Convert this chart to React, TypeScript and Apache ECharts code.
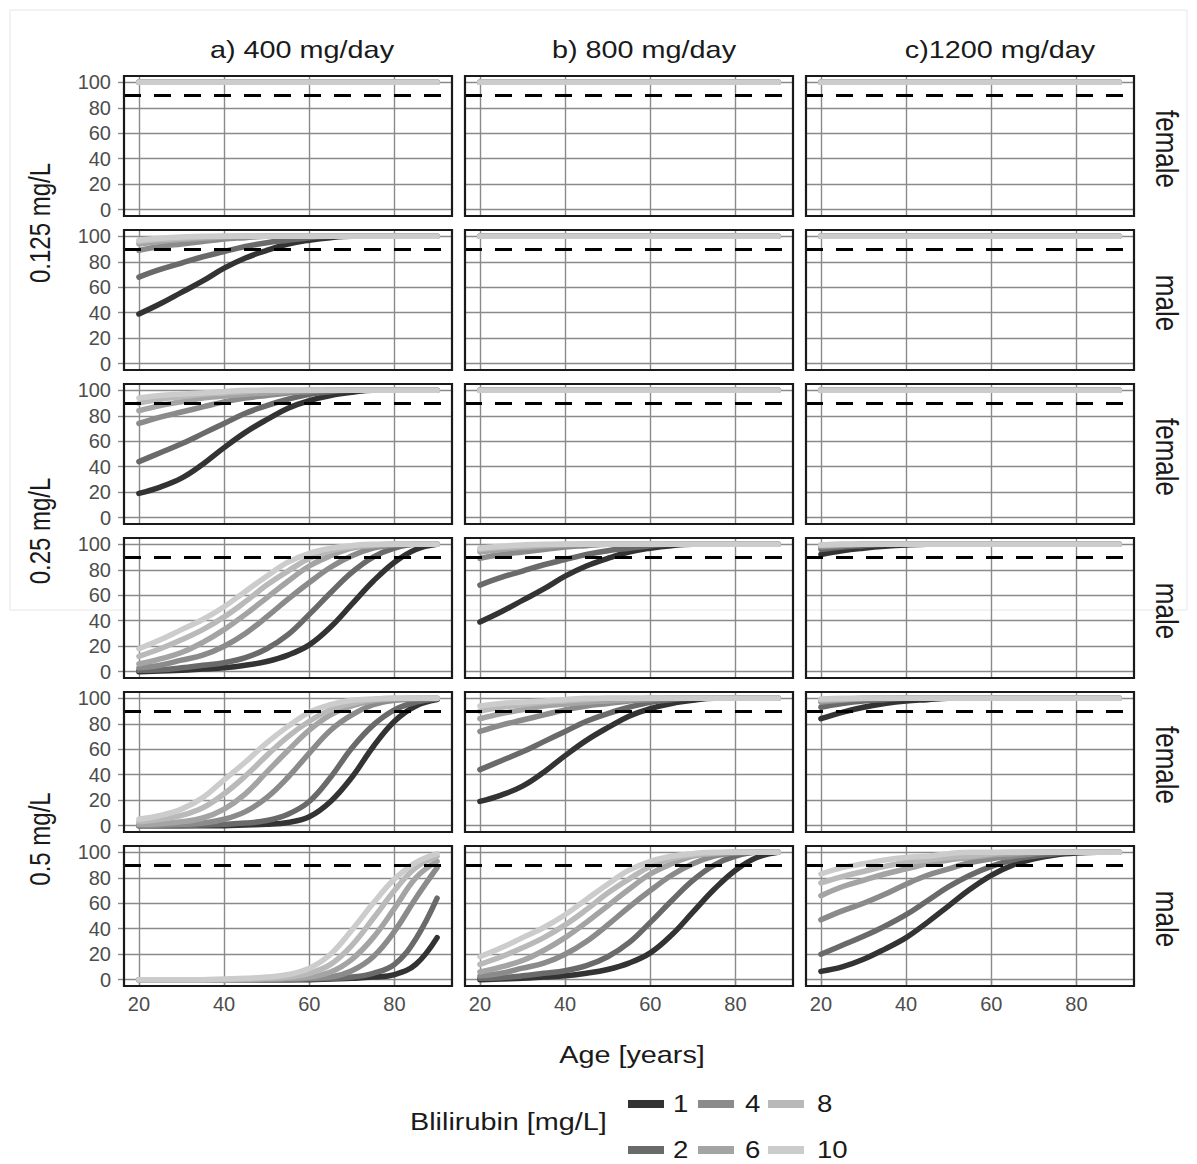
import React, { useEffect, useRef } from "react";
import * as echarts from "echarts";

// ---------------- data ----------------
const AGES = [20, 25, 30, 35, 40, 45, 50, 55, 60, 65, 70, 75, 80, 85, 90];
const BILIRUBIN = ["1", "2", "4", "6", "8", "10"];
const COLORS = ["#333333", "#6a6a6a", "#8b8b8b", "#a4a4a4", "#b9b9b9", "#cccccc"];
const DOSES = ["a) 400 mg/day", "b) 800 mg/day", "c)1200 mg/day"];
const CONCS = ["0.125 mg/L", "0.25 mg/L", "0.5 mg/L"];
const SEXES = ["female", "male"];
const X_TICKS = [20, 40, 60, 80];
const Y_TICKS = [0, 20, 40, 60, 80, 100];
const THRESHOLD = 90;
const X_RANGE = [16.5, 93.5];
const Y_RANGE = [-5, 105];

const FLAT_ROW = [100, 100, 100, 100, 100, 100, 100, 100, 100, 100, 100, 100, 100, 100, 100];
const flatSet = [FLAT_ROW, FLAT_ROW, FLAT_ROW, FLAT_ROW, FLAT_ROW, FLAT_ROW];

const male3200 = [
  [39, 47, 56, 65, 75, 83, 89, 94, 97, 99, 100, 100, 100, 100, 100],
  [68, 74, 79, 84, 88, 92, 95, 97, 99, 100, 100, 100, 100, 100, 100],
  [89, 92, 94, 96, 98, 99, 100, 100, 100, 100, 100, 100, 100, 100, 100],
  [94, 96, 97.5, 98.5, 99.5, 100, 100, 100, 100, 100, 100, 100, 100, 100, 100],
  [96, 97.5, 98.5, 99.5, 100, 100, 100, 100, 100, 100, 100, 100, 100, 100, 100],
  [97, 98.5, 99.5, 100, 100, 100, 100, 100, 100, 100, 100, 100, 100, 100, 100],
];

const male4800 = [
  [92, 95, 97, 98.5, 99.5, 100, 100, 100, 100, 100, 100, 100, 100, 100, 100],
  [96, 98, 99, 100, 100, 100, 100, 100, 100, 100, 100, 100, 100, 100, 100],
  [98, 99, 100, 100, 100, 100, 100, 100, 100, 100, 100, 100, 100, 100, 100],
  [99, 99.5, 100, 100, 100, 100, 100, 100, 100, 100, 100, 100, 100, 100, 100],
  [99.5, 100, 100, 100, 100, 100, 100, 100, 100, 100, 100, 100, 100, 100, 100],
  [99.5, 100, 100, 100, 100, 100, 100, 100, 100, 100, 100, 100, 100, 100, 100],
];

const male1600 = [
  [0, 0.5, 1, 2, 3, 5, 8, 13, 21, 35, 53, 71, 86, 96, 100],
  [1, 1.5, 3, 5, 7, 11, 18, 29, 45, 62, 78, 90, 97, 100, 100],
  [3, 5, 9, 13, 20, 30, 43, 57, 70, 82, 91, 97, 99.5, 100, 100],
  [6, 10, 15, 23, 33, 45, 58, 71, 83, 91, 97, 99, 100, 100, 100],
  [12, 18, 25, 33, 43, 55, 68, 79, 89, 95, 98, 99.5, 100, 100, 100],
  [18, 25, 33, 41, 51, 63, 75, 86, 93, 97, 99, 100, 100, 100, 100],
];

const male800 = [
  [0, 0, 0, 0, 0, 0, 0, 0, 0, 0.5, 1, 2, 4, 12, 33],
  [0, 0, 0, 0, 0, 0, 0, 0, 0.5, 1, 2, 5, 12, 32, 64],
  [0, 0, 0, 0, 0, 0, 0, 0.5, 1, 2, 7, 18, 38, 64, 88],
  [0, 0, 0, 0, 0, 0, 0.5, 1, 2, 6, 16, 33, 56, 80, 93],
  [0, 0, 0, 0, 0, 0.5, 1, 2, 5, 12, 27, 48, 70, 88, 97],
  [0, 0, 0, 0, 0.5, 1, 2, 4, 9, 20, 39, 60, 79, 92, 99],
];

const male2400 = [
  [6.5, 10, 16, 24, 33, 45, 58, 71, 82, 90, 95, 98, 99.5, 100, 100],
  [20, 27, 34, 42, 51, 62, 73, 82, 89, 94, 97, 99, 100, 100, 100],
  [47, 54, 60, 67, 75, 82, 87, 92, 95, 97, 99, 100, 100, 100, 100],
  [66, 73, 78, 83, 87, 91, 94, 96, 98, 99, 100, 100, 100, 100, 100],
  [76, 81, 85, 89, 92, 94, 96, 97, 99, 100, 100, 100, 100, 100, 100],
  [83, 88, 91, 94, 96, 97, 99, 100, 100, 100, 100, 100, 100, 100, 100],
];

const female1600 = [
  [19, 24, 31, 42, 55, 67, 77, 86, 92, 96, 98.5, 100, 100, 100, 100],
  [44, 51, 58, 66, 74, 82, 88, 93, 97, 99, 100, 100, 100, 100, 100],
  [74, 79, 83, 87, 91, 94, 96, 98, 99, 100, 100, 100, 100, 100, 100],
  [84, 88, 91, 94, 95.5, 97, 98, 99, 100, 100, 100, 100, 100, 100, 100],
  [90, 93, 95, 97, 98, 99, 100, 100, 100, 100, 100, 100, 100, 100, 100],
  [94, 96, 97, 98, 99, 100, 100, 100, 100, 100, 100, 100, 100, 100, 100],
];

const female800 = [
  [0, 0, 0, 0, 0, 0.5, 1, 2.5, 7, 19, 38, 62, 82, 94, 99],
  [0, 0, 0, 0.5, 1, 2, 4, 9, 19, 38, 61, 79, 91, 97, 99.5],
  [0, 0.5, 1, 2, 5, 11, 22, 38, 57, 75, 87, 95, 98.5, 99.5, 100],
  [1, 1.5, 3, 6, 13, 25, 42, 59, 75, 87, 94, 98, 99.5, 100, 100],
  [3, 5, 8, 14, 25, 39, 55, 70, 82, 91, 96, 99, 100, 100, 100],
  [5, 8, 13, 22, 36, 50, 65, 78, 89, 95, 98.5, 99.5, 100, 100, 100],
];

const female2400 = [
  [84, 89, 93, 96, 98, 99, 100, 100, 100, 100, 100, 100, 100, 100, 100],
  [93, 96, 98, 99, 100, 100, 100, 100, 100, 100, 100, 100, 100, 100, 100],
  [97, 98.5, 99.5, 100, 100, 100, 100, 100, 100, 100, 100, 100, 100, 100, 100],
  [98, 99, 100, 100, 100, 100, 100, 100, 100, 100, 100, 100, 100, 100, 100],
  [99, 99.5, 100, 100, 100, 100, 100, 100, 100, 100, 100, 100, 100, 100, 100],
  [99.5, 100, 100, 100, 100, 100, 100, 100, 100, 100, 100, 100, 100, 100, 100],
];

// rows: 0.125 female, 0.125 male, 0.25 female, 0.25 male, 0.5 female, 0.5 male
const PANEL_SETS = [
  [flatSet, flatSet, flatSet],
  [male3200, flatSet, flatSet],
  [female1600, flatSet, flatSet],
  [male1600, male3200, male4800],
  [female800, female1600, female2400],
  [male800, male1600, male2400],
];

// ---------------- layout ----------------
const PANEL_LEFT = 124;
const COL_PITCH = 341;
const PANEL_W = 328;
const PANEL_TOP = 76;
const ROW_PITCH = 154;
const PANEL_H = 140;
const FONT = '"Liberation Sans", Arial, Helvetica, sans-serif';
const STRETCH = 1.2;

function buildOption() {
  const grids: any[] = [];
  const xAxes: any[] = [];
  const yAxes: any[] = [];
  const series: any[] = [];
  const graphics: any[] = [];
  const nRows = PANEL_SETS.length;

  graphics.push({
    type: "rect",
    shape: { x: 10, y: 10, width: 1177, height: 600 },
    style: { fill: "none", stroke: "#e6e6e6", lineWidth: 1 },
    z: 0,
    silent: true,
  });

  PANEL_SETS.forEach((row, r) => {
    row.forEach((set, c) => {
      const idx = r * 3 + c;
      const left = PANEL_LEFT + c * COL_PITCH;
      const top = PANEL_TOP + r * ROW_PITCH;
      grids.push({ left, top, width: PANEL_W, height: PANEL_H, containLabel: false, show: false });
      const isBottom = r === nRows - 1;
      const isLeft = c === 0;
      xAxes.push({
        type: "value",
        gridIndex: idx,
        min: X_RANGE[0],
        max: X_RANGE[1],
        axisLine: { show: false },
        axisTick: {
          show: isBottom,
          length: 5,
          lineStyle: { color: "#8a8a8a", width: 1.4 },
          customValues: X_TICKS,
        },
        axisLabel: {
          show: isBottom,
          margin: 8,
          fontSize: 20,
          color: "#4d4d4d",
          fontFamily: FONT,
          customValues: X_TICKS,
          formatter: (v: number) => (X_TICKS.indexOf(v) >= 0 ? String(v) : ""),
        },
        splitLine: { show: true, lineStyle: { color: "#8a8a8a", width: 1.4 } },
      });
      yAxes.push({
        type: "value",
        gridIndex: idx,
        min: Y_RANGE[0],
        max: Y_RANGE[1],
        axisLine: { show: false },
        axisTick: {
          show: isLeft,
          length: 6,
          lineStyle: { color: "#8a8a8a", width: 1.4 },
          customValues: Y_TICKS,
        },
        axisLabel: {
          show: isLeft,
          margin: 13,
          fontSize: 20,
          lineHeight: 20,
          color: "#4d4d4d",
          fontFamily: FONT,
          customValues: Y_TICKS,
          formatter: (v: number) => (Y_TICKS.indexOf(v) >= 0 ? String(v) : ""),
        },
        splitLine: { show: true, lineStyle: { color: "#8a8a8a", width: 1.4 } },
      });
      set.forEach((vals, k) => {
        series.push({
          type: "line",
          name: BILIRUBIN[k],
          xAxisIndex: idx,
          yAxisIndex: idx,
          data: AGES.map((a, i) => [a, vals[i]]),
          symbol: "none",
          showSymbol: false,
          smooth: 0.4,
          lineStyle: { color: COLORS[k], width: 5.5, cap: "round", join: "round" },
          z: 2,
          silent: true,
        });
      });
      series.push({
        type: "line",
        xAxisIndex: idx,
        yAxisIndex: idx,
        data: [],
        z: 5,
        silent: true,
        markLine: {
          silent: true,
          symbol: ["none", "none"],
          label: { show: false },
          lineStyle: { color: "#000000", width: 3, type: [17, 13] },
          data: [{ yAxis: THRESHOLD }],
        },
      });
      graphics.push({
        type: "rect",
        shape: { x: left, y: top, width: PANEL_W, height: PANEL_H },
        style: { fill: "none", stroke: "#1a1a1a", lineWidth: 2.2 },
        z: 50,
        silent: true,
      });
    });
  });

  const txt = (text: string, x: number, y: number, extra: any = {}) => ({
    type: "text",
    x,
    y,
    rotation: extra.rotation || 0,
    scaleX: extra.scaleX || 1,
    scaleY: extra.scaleY || 1,
    z: 60,
    silent: true,
    style: {
      text,
      fontSize: extra.fontSize || 24,
      fontFamily: FONT,
      fill: extra.fill || "#1a1a1a",
      align: extra.align || "center",
      textAlign: extra.align || "center",
      verticalAlign: "middle",
      textVerticalAlign: "middle",
    },
  });

  const titleX = [302, 644, 1000];
  DOSES.forEach((d, c) => graphics.push(txt(d, titleX[c], 50, { scaleX: STRETCH })));

  for (let r = 0; r < nRows; r++) {
    const cy = PANEL_TOP + r * ROW_PITCH + PANEL_H / 2 + 3;
    graphics.push(txt(SEXES[r % 2], 1167, cy, { rotation: -Math.PI / 2, fontSize: 26, scaleY: STRETCH }));
  }
  CONCS.forEach((cname, i) => {
    const cy = PANEL_TOP + (2 * i) * ROW_PITCH + PANEL_H + (ROW_PITCH - PANEL_H) / 2;
    graphics.push(txt(cname, 40, cy, { rotation: Math.PI / 2, fontSize: 24, scaleY: STRETCH }));
  });

  graphics.push(txt("Age [years]", 632, 1055, { scaleX: STRETCH }));

  // legend
  graphics.push(txt("Blilirubin [mg/L]", 410, 1122, { align: "left", fontSize: 24, scaleX: STRETCH }));
  const keyX = [628, 698, 768];
  const keyY = [1104, 1150];
  BILIRUBIN.forEach((b, k) => {
    const col = Math.floor(k / 2);
    const rw = k % 2;
    graphics.push({
      type: "rect",
      shape: { x: keyX[col], y: keyY[rw] - 4, width: 36, height: 8 },
      style: { fill: COLORS[k] },
      z: 60,
      silent: true,
    });
    graphics.push(txt(b, keyX[col] + 45 + col * 2, keyY[rw], { align: "left", fontSize: 23, scaleX: STRETCH }));
  });

  return {
    animation: false,
    backgroundColor: "#ffffff",
    grid: grids,
    xAxis: xAxes,
    yAxis: yAxes,
    series,
    graphic: { elements: graphics },
  };
}

export default function App() {
  const ref = useRef<HTMLDivElement>(null);
  useEffect(() => {
    if (!ref.current) return;
    const chart = echarts.init(ref.current, undefined, { renderer: "svg" });
    chart.setOption(buildOption() as any);
    return () => chart.dispose();
  }, []);
  return (
    <div
      ref={ref}
      style={{ position: "fixed", left: 0, top: 0, width: 1197, height: 1164, background: "#fff" }}
    />
  );
}
